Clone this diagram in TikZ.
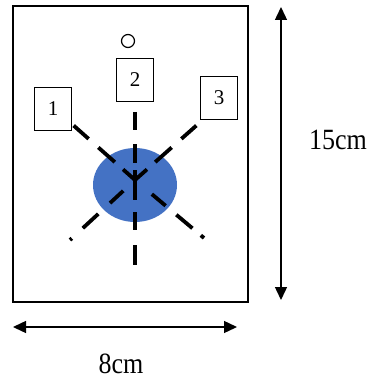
\documentclass[tikz,border=0pt]{standalone}
\usepackage{fontspec}
\setmainfont{Liberation Serif}
\usetikzlibrary{arrows.meta}
\definecolor{blobblue}{HTML}{4472C4}
\tikzset{
  numbox/.style={draw=black, line width=0.8pt, minimum width=37pt, minimum height=43pt, inner sep=0pt, font=\fontsize{21pt}{24pt}\selectfont},
  ray/.style={line width=3.8pt, line cap=butt},
  dimarrow/.style={line width=1.4pt, {Triangle[length=13pt,width=12pt]}-{Triangle[length=13pt,width=12pt]}},
  dimlabel/.style={font=\fontsize{26pt}{30pt}\selectfont, inner sep=0pt}
}
\begin{document}
\begin{tikzpicture}[x=1pt,y=-1pt]
\useasboundingbox (0,0) rectangle (371,385);
% frame
\draw[line width=1.2pt] (13,6) rectangle (248,302);
% small circle
\node[draw, circle, line width=1.2pt, minimum size=13pt, inner sep=0pt] (o) at (128,41) {};
% blue ellipse
\fill[blobblue] (135,185) ellipse [x radius=42, y radius=37];
\coordinate (c) at (135,180);
\coordinate (vt) at (135,112);
\coordinate (vb) at (135,265);
\coordinate (ul) at (73,125);
\coordinate (ur) at (197,125);
\coordinate (ll) at (70,240);
\coordinate (lr) at (204,238);
% rays
\draw[ray, dash pattern=on 18pt off 14pt on 19pt off 7pt on 30pt off 12pt on 18pt off 15pt on 20pt] (vt) -- (vb);
\draw[ray, dash pattern=on 16pt off 11pt on 22pt off 13pt on 20pt] (c) -- (ul);
\draw[ray, dash pattern=on 16pt off 11pt on 22pt off 13pt on 20pt] (c) -- (ur);
\draw[ray, dash pattern=on 0pt off 16pt on 18pt off 16pt on 21pt off 15pt on 3pt] (c) -- (ll);
\draw[ray, dash pattern=on 0pt off 22pt on 18pt off 14pt on 21pt off 11pt on 4pt] (c) -- (lr);
% boxes
\node[numbox, fill=white] (b1) at (53,109) {1};
\node[numbox, fill=white] (b2) at (135,80) {2};
\node[numbox, fill=white] (b3) at (219,98) {3};
% dimension arrows
\coordinate (ht) at (281,7);
\coordinate (hb) at (281,300);
\draw[dimarrow] (ht) -- (hb);
\node[dimlabel] (l15) at (338,140) {\scalebox{1}[1.13]{15cm}};
\coordinate (wl) at (13,327);
\coordinate (wr) at (237,327);
\draw[dimarrow] (wl) -- (wr);
\node[dimlabel] (l8) at (121,364) {\scalebox{1}[1.13]{8cm}};
\end{tikzpicture}
\end{document}
